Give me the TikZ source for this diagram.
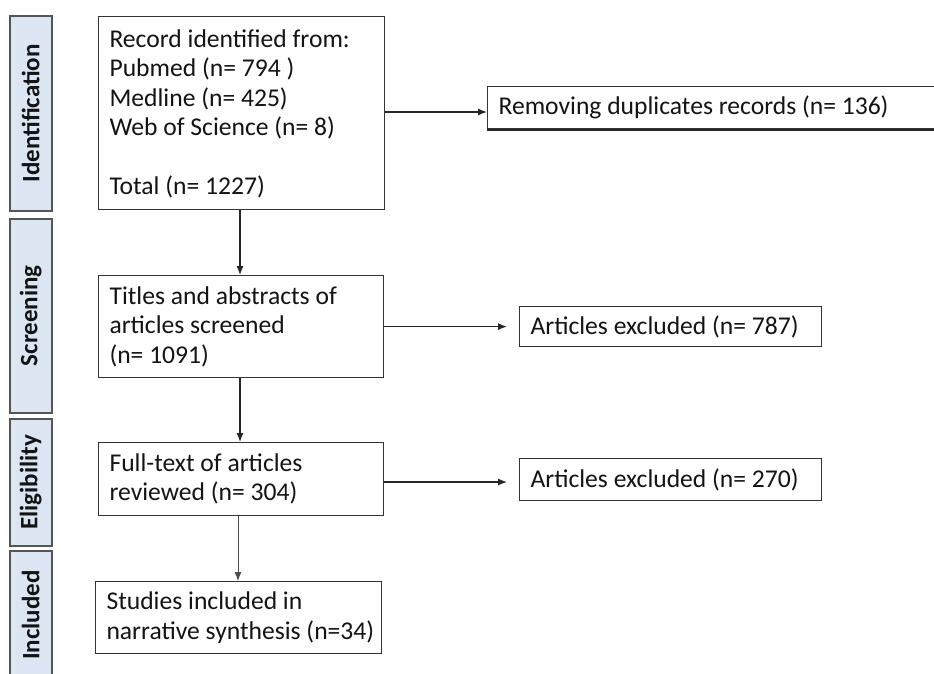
\documentclass[tikz,border=0pt]{standalone}
\usepackage{fontspec}
\setmainfont{Carlito}
\usetikzlibrary{arrows.meta}
\definecolor{barfill}{HTML}{DCE6F2}
\definecolor{barline}{HTML}{555555}
\definecolor{txt}{HTML}{141414}
\begin{document}
\begin{tikzpicture}[x=1pt,y=-1pt,
  bar/.style={draw=barline,line width=1.6pt,fill=barfill,anchor=north west,inner sep=0pt},
  bartext/.style={rotate=90,font=\fontsize{25}{30}\selectfont\bfseries,text=txt},
  box/.style={draw=black!80,line width=1.2pt,fill=white,anchor=north west,inner sep=0pt},
  boxtext/.style={anchor=west,align=left,font=\fontsize{25.6}{29.5}\selectfont,text=txt},
  arr/.style={-{Latex[length=9pt,width=7pt]},line width=1.2pt,black!85},
  thinarr/.style={-{Latex[length=9pt,width=7pt]},line width=0.9pt,black!70}]
\clip (0,0) rectangle (934,673);
\fill[white] (0,0) rectangle (934,673);
% phase bars
\node[bar,minimum width=42pt,minimum height=195pt] (bI) at (9,15) {};
\node[bartext] (tI) at (bI.center) {Identification};
\node[bar,minimum width=42pt,minimum height=194pt] (bS) at (9,218) {};
\node[bartext] (tS) at (bS.center) {Screening};
\node[bar,minimum width=42pt,minimum height=127pt] (bE) at (9,418) {};
\node[bartext] (tE) at (bE.center) {Eligibility};
\node[bar,minimum width=42pt,minimum height=160pt] (bN) at (9,550) {};
\node[bartext] (tN) at (bN.north |- 0,615) {Included};
% boxes
\node[box,minimum width=286pt,minimum height=193pt] (b1) at (98,16) {};
\node[boxtext] (t1) at ([xshift=8pt,yshift=-1pt]b1.west) {Record identified from:\\Pubmed (n= 794 )\\Medline (n= 425)\\Web of Science (n= 8)\\[29.5pt]Total (n= 1227)};
\node[box,minimum width=465pt,minimum height=42pt] (rem) at (487,86) {};
\draw[black!85,line width=2.2pt] ([yshift=-0.6pt]rem.south west) -- ([yshift=-0.6pt]rem.south east);
\node[boxtext] (trem) at ([xshift=8pt]rem.west) {Removing duplicates records (n= 136)};
\node[box,minimum width=285pt,minimum height=102pt] (b2) at (98,275) {};
\node[boxtext] (t2) at ([xshift=8pt]b2.west) {Titles and abstracts of\\articles screened\\(n= 1091)};
\node[box,minimum width=302pt,minimum height=40pt] (x1) at (519,306) {};
\node[boxtext] (tx1) at ([xshift=8pt]x1.west) {Articles excluded (n= 787)};
\node[box,minimum width=285pt,minimum height=73pt] (b3) at (98,442) {};
\node[boxtext] (t3) at ([xshift=8pt]b3.west) {Full-text of articles\\reviewed (n= 304)};
\node[box,minimum width=302pt,minimum height=42pt] (x2) at (519,458) {};
\node[boxtext] (tx2) at ([xshift=8pt]x2.west) {Articles excluded (n= 270)};
\node[box,minimum width=286pt,minimum height=72pt] (b4) at (95,581) {};
\node[boxtext] (t4) at ([xshift=8pt]b4.west) {Studies included in\\narrative synthesis (n=34)};
% connectors
\coordinate (c1) at (240,0);
\draw[arr] (b1.south -| c1) -- (b2.north -| c1);
\draw[arr] (b2.south -| c1) -- (b3.north -| c1);
\coordinate (c2) at (238,0);
\draw[thinarr] (b3.south -| c2) -- (b4.north -| c2);
\coordinate (r1) at (0,112);
\draw[arr] (b1.east |- r1) -- (rem.west |- r1);
\draw[arr] (b2.east |- x1.west) -- ([xshift=-12pt]x1.west);
\coordinate (r3) at (0,482);
\draw[arr] (b3.east |- r3) -- ([xshift=-12pt]x2.west |- r3);
\end{tikzpicture}
\end{document}
